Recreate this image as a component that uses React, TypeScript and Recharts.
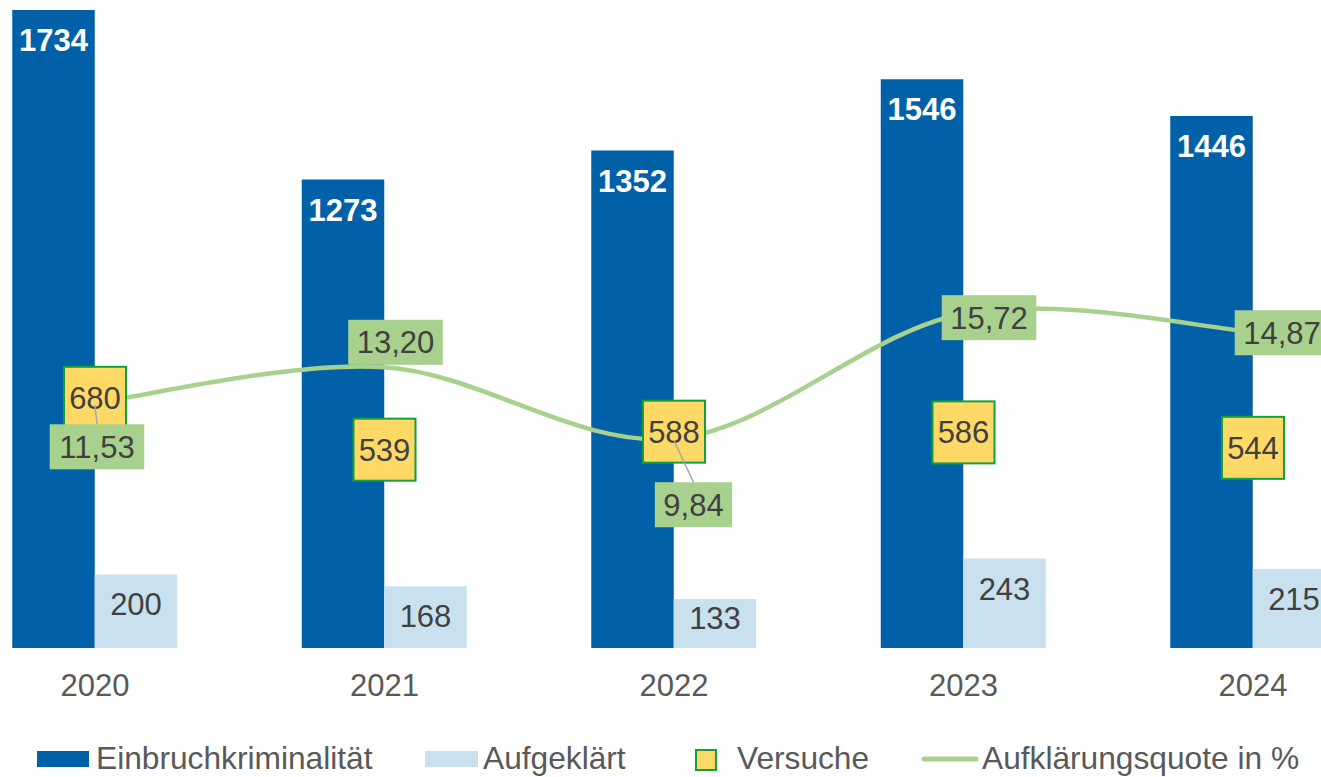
import React from 'react';
import { ComposedChart, Bar, Line, XAxis, YAxis, LabelList } from 'recharts';

const years = ['2020', '2021', '2022', '2023', '2024'];
const einbruch = [1734, 1273, 1352, 1546, 1446];
const aufgeklaert = [200, 168, 133, 243, 215];
const versuche = [680, 539, 588, 586, 544];
const quote = [11.53, 13.2, 9.84, 15.72, 14.87];

// label placement for the quota labels (offset from the point, px) and leader lines
const quoteLabelOffsets = [
  { dx: 2, dy: 44, leader: true },
  { dx: 11, dy: -25, leader: false },
  { dx: 19.5, dy: 66, leader: true },
  { dx: 25.5, dy: 4, leader: false },
  { dx: 29, dy: 1, leader: false },
];

const data = years.map((y, i) => ({
  year: y,
  einbruch: einbruch[i],
  aufgeklaert: aufgeklaert[i],
  versuche: versuche[i],
  quote: quote[i],
}));

const FONT = '"Liberation Sans", Arial, sans-serif';
const FS = 31;
const LEGEND_FS = 31.7;
const DARK = '#0061A8';
const LIGHT = '#C9E0EF';
const YELLOW = '#FFD966';
const GREEN_BORDER = '#12A038';
const LINE_GREEN = '#A9D18E';
const TEXT = '#404040';
const LEGEND_TEXT = '#595959';

const fmt = (v: number) => v.toFixed(2).replace('.', ',');

// Excel-like smoothed line (Catmull-Rom via cubic Bezier)
const smoothCurve: any = (context: any) => {
  let pts: number[][] = [];
  return {
    areaStart() {},
    areaEnd() {},
    lineStart() {
      pts = [];
    },
    point(x: number, y: number) {
      pts.push([+x, +y]);
    },
    lineEnd() {
      const n = pts.length;
      if (n === 0) return;
      context.moveTo(pts[0][0], pts[0][1]);
      if (n === 1) return;
      for (let i = 0; i < n - 1; i++) {
        const p0 = pts[Math.max(0, i - 1)];
        const p1 = pts[i];
        const p2 = pts[i + 1];
        const p3 = pts[Math.min(n - 1, i + 2)];
        const c1x = p1[0] + (p2[0] - p0[0]) / 6;
        const c1y = p1[1] + (p2[1] - p0[1]) / 6;
        const c2x = p2[0] - (p3[0] - p1[0]) / 6;
        const c2y = p2[1] - (p3[1] - p1[1]) / 6;
        context.bezierCurveTo(c1x, c1y, c2x, c2y, p2[0], p2[1]);
      }
    },
  };
};

const barLabel = (color: string, bold: boolean) => (props: any) => {
  const { x, y, width, height, value } = props;
  const cx = Number(x) + Number(width) / 2;
  const top = Number(y);
  const bottom = top + Number(height);
  const cy = Math.min(top + 30, bottom - 30);
  return (
    <text
      x={cx}
      y={cy + 11}
      textAnchor="middle"
      fill={color}
      fontFamily={FONT}
      fontSize={FS}
      fontWeight={bold ? 'bold' : 'normal'}
    >
      {value}
    </text>
  );
};

const versucheLabel = (props: any) => {
  const { x, y, value } = props;
  const cx = Number(x);
  const cy = Number(y);
  return (
    <g>
      <rect x={cx - 31} y={cy - 31} width={62} height={62} fill={YELLOW} stroke={GREEN_BORDER} strokeWidth={2} />
      <text x={cx} y={cy + 11} textAnchor="middle" fill={TEXT} fontFamily={FONT} fontSize={FS}>
        {value}
      </text>
    </g>
  );
};

const quoteLabel = (props: any) => {
  const { x, y, value, index } = props;
  const px = Number(x);
  const py = Number(y);
  const o = quoteLabelOffsets[index] || { dx: 0, dy: -30, leader: false };
  const txt = fmt(Number(value));
  const digits = txt.replace(',', '').length;
  const tw = (digits * 0.556 + 0.278) * FS;
  const w = tw + 17;
  const h = 45;
  const cx = px + o.dx;
  const cy = py + o.dy;
  return (
    <g>
      <rect x={cx - w / 2} y={cy - h / 2} width={w} height={h} fill={LINE_GREEN} />
      {o.leader && (
        <line x1={px} y1={py + 2} x2={cx} y2={cy - h / 2} stroke="#A6A6A6" strokeWidth={1.5} />
      )}
      <text x={cx} y={cy + 11} textAnchor="middle" fill={TEXT} fontFamily={FONT} fontSize={FS}>
        {txt}
      </text>
    </g>
  );
};

const YearTick = (props: any) => {
  const { x, y, payload } = props;
  return (
    <text x={x} y={Number(y) + 48} textAnchor="middle" fill={LEGEND_TEXT} fontFamily={FONT} fontSize={FS}>
      {payload.value}
    </text>
  );
};

const Legend = () => (
  <svg width={1321} height={777} style={{ position: 'absolute', left: 0, top: 0, pointerEvents: 'none' }}>
    <g fontFamily={FONT} fontSize={LEGEND_FS} fill={LEGEND_TEXT}>
      <rect x={37} y={751} width={52} height={16} fill={DARK} />
      <text x={96} y={769}>Einbruchkriminalität</text>
      <rect x={425} y={751} width={53} height={16} fill={LIGHT} />
      <text x={483} y={769}>Aufgeklärt</text>
      <rect x={696} y={750} width={20} height={20} fill={YELLOW} stroke={GREEN_BORDER} strokeWidth={2} />
      <text x={737} y={769}>Versuche</text>
      <line x1={924} y1={759} x2={976} y2={759} stroke={LINE_GREEN} strokeWidth={5} strokeLinecap="round" />
      <text x={982} y={769}>Aufklärungsquote in %</text>
    </g>
  </svg>
);

export default function App() {
  return (
    <div
      style={{
        position: 'fixed',
        left: 0,
        top: 0,
        width: 1321,
        height: 777,
        overflow: 'hidden',
        background: '#ffffff',
      }}
    >
      <div style={{ position: 'absolute', left: -100, top: 0 }}>
        <ComposedChart
          width={1600}
          height={777}
          data={data}
          margin={{ top: 10, right: 102.25, bottom: 69, left: 50.25 }}
          barGap={0}
        >
          <XAxis
            dataKey="year"
            axisLine={false}
            tickLine={false}
            tickSize={0}
            tickMargin={0}
            height={60}
            interval={0}
            tick={<YearTick />}
          />
          <YAxis yAxisId="left" hide domain={[0, 1734]} allowDataOverflow />
          <YAxis yAxisId="right" hide orientation="right" domain={[0, 30]} allowDataOverflow />
          <Bar yAxisId="left" dataKey="einbruch" fill={DARK} barSize={82.5} isAnimationActive={false}>
            <LabelList dataKey="einbruch" content={barLabel('#ffffff', true)} />
          </Bar>
          <Bar yAxisId="left" dataKey="aufgeklaert" fill={LIGHT} barSize={82.5} isAnimationActive={false}>
            <LabelList dataKey="aufgeklaert" content={barLabel(TEXT, false)} />
          </Bar>
          <Line
            yAxisId="left"
            dataKey="versuche"
            stroke="none"
            dot={false}
            activeDot={false}
            isAnimationActive={false}
          >
            <LabelList dataKey="versuche" content={versucheLabel} />
          </Line>
          <Line
            yAxisId="right"
            type={smoothCurve}
            dataKey="quote"
            stroke={LINE_GREEN}
            strokeWidth={4.5}
            dot={false}
            activeDot={false}
            isAnimationActive={false}
          >
            <LabelList dataKey="quote" content={quoteLabel} />
          </Line>
        </ComposedChart>
      </div>
      <Legend />
    </div>
  );
}
